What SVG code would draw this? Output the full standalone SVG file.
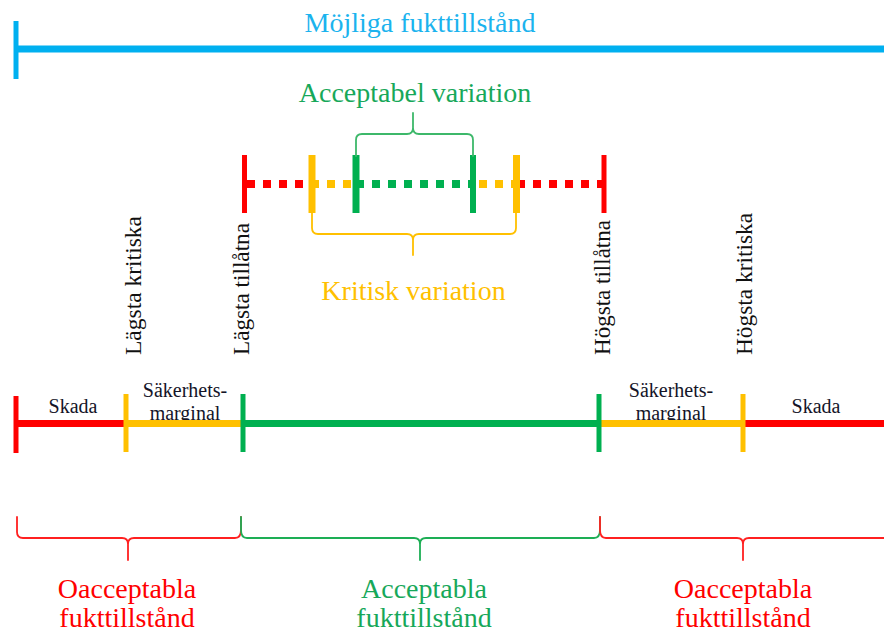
<svg xmlns="http://www.w3.org/2000/svg" width="884" height="633" viewBox="0 0 884 633">
<style>
text{font-family:"Liberation Serif","Times New Roman",serif}
.big{font-size:28px;text-anchor:middle}
.lab{font-size:20px;text-anchor:middle;fill:#141428}
.vert{font-size:24px;fill:#111}
.brace{fill:none;stroke-width:1.8;stroke-linejoin:round;stroke-linecap:round}
.dot{stroke-width:8;stroke-dasharray:8 8}
</style>
<rect width="884" height="633" fill="#fff"/>

<g id="mojliga">
  <line x1="16" y1="49" x2="884" y2="49" stroke="#00B0F0" stroke-width="7"/>
  <line x1="16" y1="21" x2="16" y2="79" stroke="#00B0F0" stroke-width="5"/>
  <text class="big" x="420" y="32" fill="#1BB3EE">Möjliga fukttillstånd</text>
</g>

<g id="variation">
  <line x1="247" y1="184" x2="312" y2="184" stroke="#FF0000" class="dot"/>
  <line x1="311" y1="184" x2="356" y2="184" stroke="#FFC000" class="dot"/>
  <line x1="356" y1="184" x2="474" y2="184" stroke="#00B050" class="dot"/>
  <line x1="479" y1="184" x2="517" y2="184" stroke="#FFC000" class="dot"/>
  <line x1="517" y1="184" x2="605" y2="184" stroke="#FF0000" class="dot"/>
  <line x1="244.5" y1="155" x2="244.5" y2="213" stroke="#FF0000" stroke-width="5"/>
  <line x1="604" y1="155" x2="604" y2="213" stroke="#FF0000" stroke-width="5"/>
  <line x1="312" y1="155" x2="312" y2="213" stroke="#FFC000" stroke-width="7"/>
  <line x1="516.5" y1="155" x2="516.5" y2="213" stroke="#FFC000" stroke-width="7"/>
  <line x1="356" y1="155" x2="356" y2="213" stroke="#00B050" stroke-width="7"/>
  <line x1="473" y1="155" x2="473" y2="213" stroke="#00B050" stroke-width="6"/>
</g>

<g id="acceptabel-variation">
  <path class="brace" stroke="#3DB86A" d="M356,156 L356,140 Q356,134 362,134 L407,134 Q413,134 413,128 L413,113 M413,128 Q413,134 419,134 L467,134 Q473,134 473,140 L473,156"/>
  <text class="big" x="415" y="102" fill="#17A85A">Acceptabel variation</text>
</g>

<g id="kritisk-variation">
  <path class="brace" stroke="#FFC000" d="M312,213 L312,228 Q312,234 318,234 L407,234 Q413,234 413,240 L413,255 M413,240 Q413,234 419,234 L510,234 Q516,234 516,228 L516,213"/>
  <text class="big" x="413.5" y="300" fill="#FFC000">Kritisk variation</text>
</g>

<g id="vertical-labels">
  <text class="vert" transform="translate(141,355) rotate(-90)" textLength="139" lengthAdjust="spacingAndGlyphs">Lägsta kritiska</text>
  <text class="vert" transform="translate(249,355) rotate(-90)" textLength="132" lengthAdjust="spacingAndGlyphs">Lägsta tillåtna</text>
  <text class="vert" transform="translate(610,355) rotate(-90)" textLength="135" lengthAdjust="spacingAndGlyphs">Högsta tillåtna</text>
  <text class="vert" transform="translate(752,355) rotate(-90)" textLength="142" lengthAdjust="spacingAndGlyphs">Högsta kritiska</text>
</g>

<g id="scale">
  <text class="lab" x="73" y="413">Skada</text>
  <text class="lab" x="185" y="397">Säkerhets-</text>
  <text class="lab" x="185" y="420">marginal</text>
  <text class="lab" x="671" y="397">Säkerhets-</text>
  <text class="lab" x="671" y="420">marginal</text>
  <text class="lab" x="816" y="413">Skada</text>
  <line x1="16" y1="423.5" x2="126" y2="423.5" stroke="#FF0000" stroke-width="7"/>
  <line x1="126" y1="423.5" x2="243" y2="423.5" stroke="#FFC000" stroke-width="7"/>
  <line x1="243" y1="423.5" x2="599" y2="423.5" stroke="#00B050" stroke-width="7"/>
  <line x1="599" y1="423.5" x2="743" y2="423.5" stroke="#FFC000" stroke-width="7"/>
  <line x1="743" y1="423.5" x2="884" y2="423.5" stroke="#FF0000" stroke-width="7"/>
  <line x1="16" y1="396" x2="16" y2="453" stroke="#FF0000" stroke-width="5"/>
  <line x1="126" y1="394" x2="126" y2="452" stroke="#FFC000" stroke-width="5"/>
  <line x1="243" y1="394" x2="243" y2="452" stroke="#00B050" stroke-width="5"/>
  <line x1="599" y1="394" x2="599" y2="452" stroke="#00B050" stroke-width="5"/>
  <line x1="743" y1="394" x2="743" y2="452" stroke="#FFC000" stroke-width="5"/>
</g>

<g id="oacceptabla-left">
  <path class="brace" stroke="#FF2020" d="M17,517 L17,532 Q17,538 23,538 L122,538 Q128,538 128,544 L128,560 M128,544 Q128,538 134,538 L235,538 Q241,538 241,530 L241,517"/>
  <text class="big" x="127" y="598" fill="#FF0000">Oacceptabla</text>
  <text class="big" x="127" y="627" fill="#FF0000">fukttillstånd</text>
</g>

<g id="acceptabla">
  <path class="brace" stroke="#1DAE55" d="M241,517 L241,530 Q241,538 247,538 L414,538 Q420,538 420,544 L420,560 M420,544 Q420,538 426,538 L594,538 Q600,538 600,530 L600,517"/>
  <text class="big" x="424" y="598" fill="#17A85A">Acceptabla</text>
  <text class="big" x="424" y="627" fill="#17A85A">fukttillstånd</text>
</g>

<g id="oacceptabla-right">
  <path class="brace" stroke="#FF2020" d="M600,517 L600,530 Q600,538 606,538 L737,538 Q743,538 743,544 L743,560 M743,544 Q743,538 749,538 L884,538"/>
  <text class="big" x="743" y="598" fill="#FF0000">Oacceptabla</text>
  <text class="big" x="743" y="627" fill="#FF0000">fukttillstånd</text>
</g>
</svg>
